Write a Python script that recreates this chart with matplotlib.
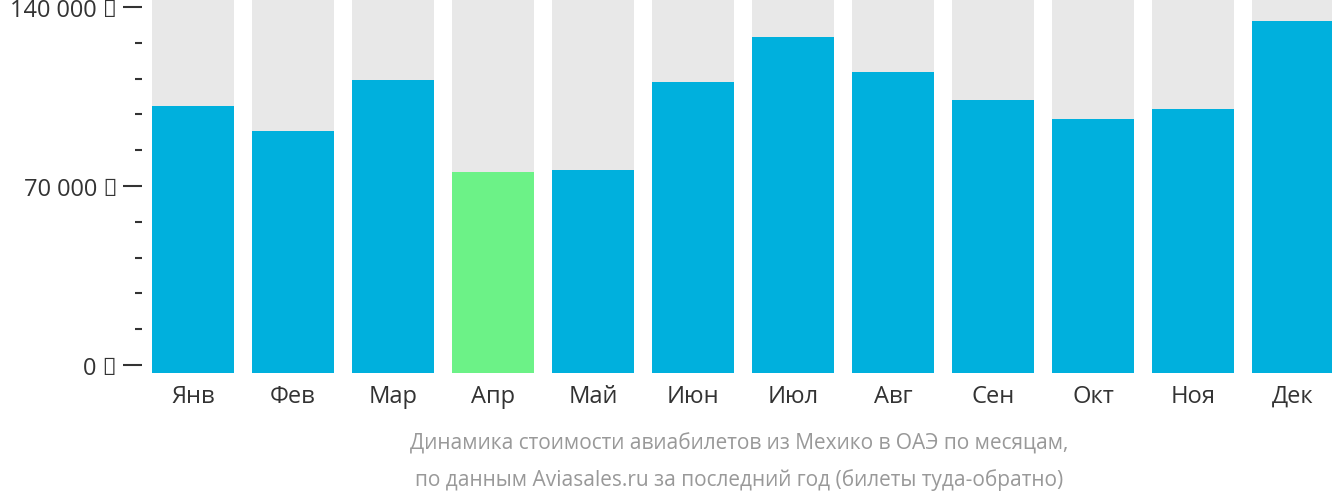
import matplotlib.pyplot as plt
from matplotlib.ticker import FixedLocator, MultipleLocator

# =========================
# DATA
# =========================
months = ["Янв", "Фев", "Мар", "Апр", "Май", "Июн", "Июл", "Авг", "Сен", "Окт", "Ноя", "Дек"]
prices = [101300, 91500, 111400, 75500, 76300, 110700, 128300, 114600, 103600, 96200, 100100, 134500]
cheapest = "Апр"
tick_values = [0, 70000, 140000]
tick_labels = ["0 ₽", "70 000 ₽", "140 000 ₽"]

plt.rcParams["font.family"] = "Open Sans"

fig = plt.figure(figsize=(13.32, 5.02), dpi=100)
ax = fig.add_axes([142 / 1332, 1 - 374 / 502, 1190 / 1332, 374 / 502])

ymin, ymax = -3128, 143130
x = range(len(months))
ax.bar(x, [ymax - ymin] * len(months), bottom=ymin, width=0.82, color="#e8e8e8")
colors = ["#6cf287" if m == cheapest else "#00b0dd" for m in months]
ax.bar(x, [p - ymin for p in prices], bottom=ymin, width=0.82, color=colors)

ax.set_xlim(-0.51, 11.39)
ax.set_ylim(ymin, ymax)
ax.set_xticks(list(x))
ax.set_xticklabels(months, fontsize=17, color="#333333")
ax.tick_params(axis="x", length=0, pad=8)
ax.yaxis.set_major_locator(FixedLocator(tick_values))
ax.set_yticklabels(tick_labels, fontsize=17, color="#333333")
ax.yaxis.set_minor_locator(MultipleLocator(14000))
ax.tick_params(axis="y", which="major", length=14, width=1.5, color="#333333", pad=4)
ax.tick_params(axis="y", which="minor", length=5, width=1.5, color="#333333")
for s in ax.spines.values():
    s.set_visible(False)

fig.text(0.555, 1 - 444 / 502, "Динамика стоимости авиабилетов из Мехико в ОАЭ по месяцам,",
         ha="center", va="center", fontsize=15, color="#999999")
fig.text(0.555, 1 - 480 / 502, "по данным Aviasales.ru за последний год (билеты туда-обратно)",
         ha="center", va="center", fontsize=15, color="#999999")

fig.savefig("out.png", dpi=100)
